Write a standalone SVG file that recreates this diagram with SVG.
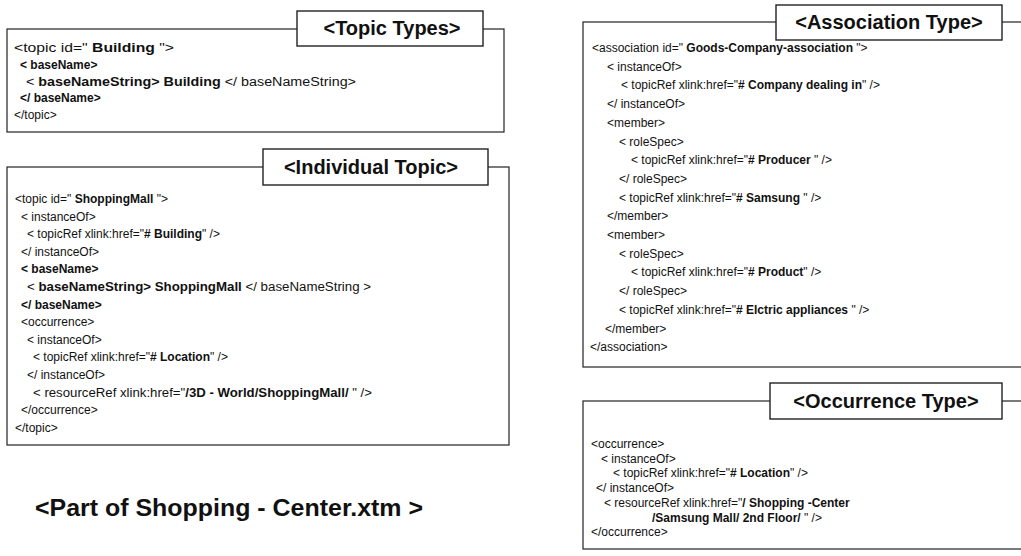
<svg xmlns="http://www.w3.org/2000/svg" width="1021" height="556" viewBox="0 0 1021 556">
<style>
.bg{fill:#fff}
.box{fill:none;stroke:#222;stroke-width:1.2}
.lb{fill:#fff;stroke:#222;stroke-width:1.4}
.c{font-family:"Liberation Sans",Arial,sans-serif;font-size:12px;fill:#111}
.b{font-weight:bold}
.lbl{font-family:"Liberation Sans",Arial,sans-serif;font-size:20px;font-weight:bold;fill:#111;text-anchor:middle}
.title{font-family:"Liberation Sans",Arial,sans-serif;font-size:23px;font-weight:bold;fill:#111}
</style>
<rect class="bg" x="0" y="0" width="1021" height="556"/>
<g id="connectors"></g>

<g id="topic-types">
<rect class="box" x="7" y="29" width="497" height="103"/>
<rect class="lb" x="297" y="11" width="186" height="35"/>
<text class="lbl" x="392" y="35">&lt;Topic Types&gt;</text>
<text class="c" x="14" y="52" textLength="160" lengthAdjust="spacingAndGlyphs">&lt;topic id=" <tspan class="b">Building</tspan> "&gt;</text>
<text class="c b" x="20" y="68.8">&lt; baseName&gt;</text>
<text class="c" x="26" y="85.6" textLength="330" lengthAdjust="spacingAndGlyphs">&lt; <tspan class="b">baseNameString&gt; Building</tspan> &lt;/ baseNameString&gt;</text>
<text class="c b" x="20" y="102.4">&lt;/ baseName&gt;</text>
<text class="c" x="14" y="119.2">&lt;/topic&gt;</text>
</g>

<g id="individual-topic">
<rect class="box" x="7" y="167" width="502" height="278"/>
<rect class="lb" x="263" y="149" width="225" height="36"/>
<text class="lbl" x="371" y="174">&lt;Individual Topic&gt;</text>
<text class="c" x="15" y="203">&lt;topic id=" <tspan class="b">ShoppingMall</tspan> "&gt;</text>
<text class="c" x="21" y="220.6">&lt; instanceOf&gt;</text>
<text class="c" x="27" y="238.2">&lt; topicRef xlink:href="<tspan class="b"># Building</tspan>" /&gt;</text>
<text class="c" x="21" y="255.8">&lt;/ instanceOf&gt;</text>
<text class="c b" x="21" y="273.4">&lt; baseName&gt;</text>
<text class="c" x="27" y="291" textLength="344" lengthAdjust="spacingAndGlyphs">&lt; <tspan class="b">baseNameString&gt; ShoppingMall</tspan> &lt;/ baseNameString &gt;</text>
<text class="c b" x="21" y="308.6">&lt;/ baseName&gt;</text>
<text class="c" x="21" y="326.2">&lt;occurrence&gt;</text>
<text class="c" x="27" y="343.8">&lt; instanceOf&gt;</text>
<text class="c" x="33" y="361.4">&lt; topicRef xlink:href="<tspan class="b"># Location</tspan>" /&gt;</text>
<text class="c" x="27" y="379">&lt;/ instanceOf&gt;</text>
<text class="c" x="33" y="396.6" textLength="339" lengthAdjust="spacingAndGlyphs">&lt; resourceRef xlink:href="<tspan class="b">/3D - World/ShoppingMall/</tspan> " /&gt;</text>
<text class="c" x="21" y="414.2">&lt;/occurrence&gt;</text>
<text class="c" x="15" y="431.8">&lt;/topic&gt;</text>
</g>

<g id="caption">
<text class="title" x="35" y="516" textLength="388" lengthAdjust="spacingAndGlyphs">&lt;Part of Shopping - Center.xtm &gt;</text>
</g>

<g id="association-type">
<rect class="box" x="583" y="22" width="450" height="345"/>
<rect class="lb" x="776" y="5" width="226" height="35"/>
<text class="lbl" x="889" y="29">&lt;Association Type&gt;</text>
<text class="c" x="592" y="52">&lt;association id=" <tspan class="b">Goods-Company-association</tspan> "&gt;</text>
<text class="c" x="607" y="70.7">&lt; instanceOf&gt;</text>
<text class="c" x="621" y="89.4">&lt; topicRef xlink:href="<tspan class="b"># Company dealing in</tspan>" /&gt;</text>
<text class="c" x="607" y="108.1">&lt;/ instanceOf&gt;</text>
<text class="c" x="607" y="126.8">&lt;member&gt;</text>
<text class="c" x="619" y="145.5">&lt; roleSpec&gt;</text>
<text class="c" x="631" y="164.2">&lt; topicRef xlink:href="<tspan class="b"># Producer</tspan> " /&gt;</text>
<text class="c" x="619" y="182.9">&lt;/ roleSpec&gt;</text>
<text class="c" x="619" y="201.6">&lt; topicRef xlink:href="<tspan class="b"># Samsung</tspan> " /&gt;</text>
<text class="c" x="607" y="220.3">&lt;/member&gt;</text>
<text class="c" x="607" y="239">&lt;member&gt;</text>
<text class="c" x="619" y="257.7">&lt; roleSpec&gt;</text>
<text class="c" x="631" y="276.4">&lt; topicRef xlink:href="<tspan class="b"># Product</tspan>" /&gt;</text>
<text class="c" x="619" y="295.1">&lt;/ roleSpec&gt;</text>
<text class="c" x="619" y="313.8">&lt; topicRef xlink:href="<tspan class="b"># Elctric appliances</tspan> " /&gt;</text>
<text class="c" x="605" y="332.5">&lt;/member&gt;</text>
<text class="c" x="590" y="351.2">&lt;/association&gt;</text>
</g>

<g id="occurrence-type">
<rect class="box" x="583" y="401" width="450" height="148"/>
<rect class="lb" x="770" y="383" width="232" height="36"/>
<text class="lbl" x="886" y="408">&lt;Occurrence Type&gt;</text>
<text class="c" x="591" y="448">&lt;occurrence&gt;</text>
<text class="c" x="601" y="462.7">&lt; instanceOf&gt;</text>
<text class="c" x="613" y="477.4">&lt; topicRef xlink:href="<tspan class="b"># Location</tspan>" /&gt;</text>
<text class="c" x="596" y="492.1">&lt;/ instanceOf&gt;</text>
<text class="c" x="604" y="506.8">&lt; resourceRef xlink:href="<tspan class="b">/ Shopping -Center</tspan></text>
<text class="c" x="652" y="521.5"><tspan class="b">/Samsung Mall/ 2nd Floor/</tspan> " /&gt;</text>
<text class="c" x="591" y="536.2">&lt;/occurrence&gt;</text>
</g>
</svg>
